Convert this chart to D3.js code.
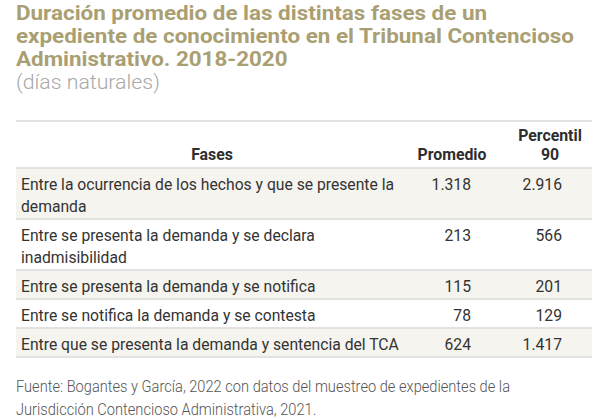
<!DOCTYPE html>
<html>
<head>
<meta charset="utf-8">
<script src="https://cdn.jsdelivr.net/npm/d3@7"></script>
<style>
  body { margin: 0; background: #fff; }
  text { font-family: Roboto, "Noto Sans", sans-serif; }
</style>
</head>
<body>
<script>
  // data
  var titulo = ["Duración promedio de las distintas fases de un",
                "expediente de conocimiento en el Tribunal Contencioso",
                "Administrativo. 2018-2020"];
  var subtitulo = "(días naturales)";
  var encabezados = [["Fases"], ["Promedio"], ["Percentil", "90"]];
  var fases = [
    "Entre la ocurrencia de los hechos y que se presente la\ndemanda",
    "Entre se presenta la demanda y se declara\ninadmisibilidad",
    "Entre se presenta la demanda y se notifica",
    "Entre se notifica la demanda y se contesta",
    "Entre que se presenta la demanda y sentencia del TCA"
  ];
  var promedio = [1318, 213, 115, 78, 624];
  var percentil90 = [2916, 566, 201, 129, 1417];
  var fuente = ["Fuente: Bogantes y García, 2022 con datos del muestreo de expedientes de la",
                "Jurisdicción Contencioso Administrativa, 2021."];

  var w = 600, h = 419;
  var left = 16, right = 592;
  var es = d3.formatLocale({decimal: ",", thousands: ".", grouping: [3], currency: ["₡", ""]});
  var fmt = es.format(",d");

  var svg = d3.select("body").append("svg")
    .attr("width", w)
    .attr("height", h);

  // squeeze text to a given ratio of its natural width (condensed look)
  function squeeze(sel, ratio) {
    sel.each(function () {
      var len = this.getComputedTextLength();
      d3.select(this).attr("textLength", len * ratio).attr("lengthAdjust", "spacingAndGlyphs");
    });
  }
  function ratioFor(str, size, weight, target) {
    var t = svg.append("text").attr("font-size", size).attr("font-weight", weight).text(str);
    var r = target / t.node().getComputedTextLength();
    t.remove();
    return r;
  }

  // title
  var rTitle = ratioFor(titulo[1], 21, 700, 558);
  svg.append("g").selectAll("text")
    .data(titulo)
    .join("text")
    .attr("x", left)
    .attr("y", function (d, i) { return 20 + i * 23; })
    .attr("font-size", 21)
    .attr("font-weight", 700)
    .attr("fill", "#aa9f73")
    .text(function (d) { return d; })
    .call(squeeze, rTitle);

  var rSub = ratioFor(subtitulo, 20, 300, 144);
  svg.append("text")
    .attr("x", left)
    .attr("y", 89)
    .attr("font-size", 20)
    .attr("font-weight", 300)
    .attr("fill", "#a8a8a8")
    .text(subtitulo)
    .call(squeeze, rSub);

  // table layout
  var lineH = 22;
  var headTop = 121, headBottom = 168;
  var rows = fases.map(function (d, i) {
    return {fase: d.split("\n"), prom: promedio[i], p90: percentil90[i]};
  });
  var y0 = headBottom;
  rows.forEach(function (r) {
    r.top = y0;
    r.h = 7 + lineH * r.fase.length;
    y0 += r.h;
  });

  var colCenter = d3.scaleOrdinal().domain([0, 1, 2]).range([212, 452, 550]);
  var numRight = d3.scaleOrdinal().domain(["prom", "p90"]).range([471, 562]);

  var table = svg.append("g");

  // stripes
  table.selectAll("rect.stripe")
    .data(rows.filter(function (d, i) { return i % 2 === 0; }))
    .join("rect")
    .attr("class", "stripe")
    .attr("x", left)
    .attr("width", right - left)
    .attr("y", function (d) { return d.top; })
    .attr("height", function (d) { return d.h; })
    .attr("fill", "#f6f4ee");

  // rules
  var rules = [headTop, headBottom].concat(rows.map(function (d) { return d.top + d.h; }));
  table.selectAll("line.rule")
    .data(rules)
    .join("line")
    .attr("class", "rule")
    .attr("x1", left)
    .attr("x2", right)
    .attr("y1", function (d) { return d; })
    .attr("y2", function (d) { return d; })
    .attr("stroke", "#e2e2e2")
    .attr("stroke-width", 2);

  // header
  var rHead = ratioFor("Promedio", 16, 700, 69);
  encabezados.forEach(function (lines, c) {
    table.append("g").selectAll("text")
      .data(lines)
      .join("text")
      .attr("x", colCenter(c))
      .attr("y", function (d, i) { return 160 - (lines.length - 1 - i) * 19; })
      .attr("text-anchor", "middle")
      .attr("font-size", 16)
      .attr("font-weight", 700)
      .attr("fill", "#2e2e2e")
      .text(function (d) { return d; })
      .call(squeeze, rHead);
  });

  // body
  var rBody = ratioFor(fases[0].split("\n")[0], 17, 400, 373);
  var rowG = table.selectAll("g.row")
    .data(rows)
    .join("g")
    .attr("class", "row")
    .attr("transform", function (d) { return "translate(0," + d.top + ")"; });

  rowG.selectAll("text.fase")
    .data(function (d) { return d.fase; })
    .join("text")
    .attr("class", "fase")
    .attr("x", 21)
    .attr("y", function (d, i) { return 21.5 + i * lineH; })
    .attr("font-size", 17)
    .attr("fill", "#333")
    .text(function (d) { return d; })
    .call(squeeze, rBody);

  ["prom", "p90"].forEach(function (k) {
    rowG.append("text")
      .attr("x", numRight(k))
      .attr("y", 21.5)
      .attr("text-anchor", "end")
      .attr("font-size", 17)
      .attr("fill", "#333")
      .text(function (d) { return fmt(d[k]); })
      .call(squeeze, rBody);
  });

  // source
  var rSrc = ratioFor(fuente[0], 16, 300, 494);
  svg.append("g").selectAll("text")
    .data(fuente)
    .join("text")
    .attr("x", left)
    .attr("y", function (d, i) { return 392 + i * 23; })
    .attr("font-size", 16)
    .attr("font-weight", 300)
    .attr("fill", "#555")
    .text(function (d) { return d; })
    .call(squeeze, rSrc);
</script>
</body>
</html>
